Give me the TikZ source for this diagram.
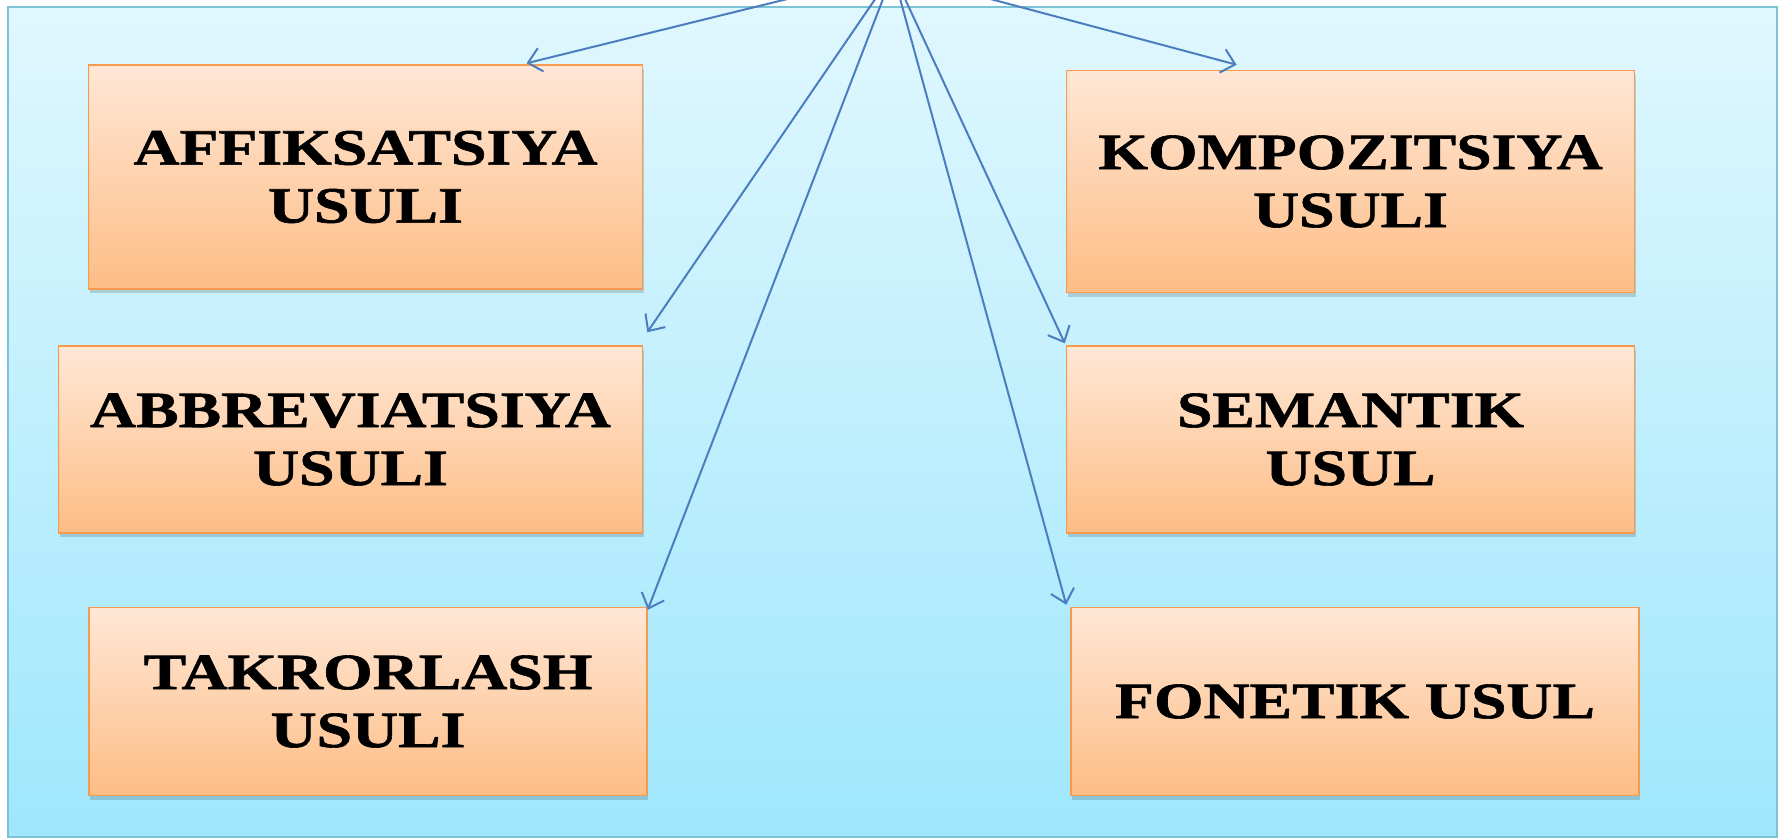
\documentclass[tikz,border=0pt]{standalone}
\usepackage{fontspec}
\setmainfont{Liberation Serif}
\newfontfamily\boxfont[FakeStretch=1.25,FakeBold=1.2]{Liberation Serif Bold}
\usetikzlibrary{arrows.meta,calc,shadows}
\definecolor{bgtop}{HTML}{E0F7FE}
\definecolor{bgbot}{HTML}{9FE7FC}
\definecolor{bgline}{HTML}{7CC3D6}
\definecolor{boxtop}{HTML}{FFE7D6}
\definecolor{boxbot}{HTML}{FDBD85}
\definecolor{boxline}{HTML}{F79A4E}
\definecolor{arrowblue}{HTML}{4A7EBF}
\tikzset{
  methodbox/.style={draw=boxline, line width=1.5pt, top color=boxtop, bottom color=boxbot,
    align=center, inner sep=0pt,
    font=\boxfont\fontsize{51}{58}\selectfont,
    general shadow={shadow xshift=1pt, shadow yshift=-4pt, fill=black, opacity=0.15}},
  link/.style={draw=arrowblue, line width=2pt, -{Straight Barb[length=13pt,width=24pt,line width=2pt]}}
}
\begin{document}
\begin{tikzpicture}[x=1pt,y=-1pt]
\useasboundingbox (0,0) rectangle (1779,839);
\clip (0,0) rectangle (1779,839);
\fill[white] (0,0) rectangle (1779,839);
\node[draw=bgline, line width=2.5pt, top color=bgtop, bottom color=bgbot,
  minimum width=1769pt, minimum height=830pt, inner sep=0pt] (bg) at (892.5,422) {};
\coordinate (src) at (893,-27);

\node[methodbox, minimum width=554pt, minimum height=224pt] (aff) at (365.5,177) {AFFIKSATSIYA\\USULI};
\node[methodbox, minimum width=568pt, minimum height=222pt] (kom) at (1350.5,181.5) {KOMPOZITSIYA\\USULI};
\node[methodbox, minimum width=584pt, minimum height=187pt] (abb) at (350.5,439.5) {ABBREVIATSIYA\\USULI};
\node[methodbox, minimum width=568pt, minimum height=187pt] (sem) at (1350.5,439.5) {SEMANTIK\\USUL};
\node[methodbox, minimum width=558pt, minimum height=188pt] (tak) at (368,701.5) {TAKRORLASH\\USULI};
\node[methodbox, minimum width=568pt, minimum height=188pt] (fon) at (1355,701.5) {FONETIK USUL};

\draw[link] (src) -- ($(aff.north west)!0.79!(aff.north east)+(0,-1)$);
\draw[link] (src) -- ($(abb.north east)+(4,-13)$);
\draw[link] (src) -- ($(tak.north east)+(0,3)$);
\draw[link] (src) -- ($(sem.north west)+(-1,-2)$);
\draw[link] (src) -- ($(fon.north west)+(-4,-2)$);
\draw[link] (src) -- ($(kom.north west)!0.30!(kom.north east)+(0,-5)$);
\end{tikzpicture}
\end{document}
